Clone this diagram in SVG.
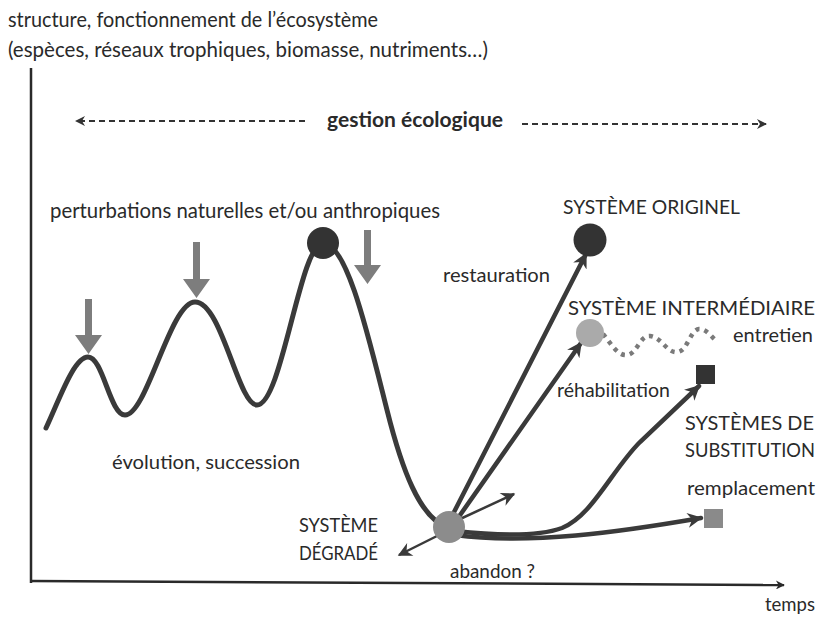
<svg xmlns="http://www.w3.org/2000/svg" width="831" height="623" viewBox="0 0 831 623">
<style>
text{font-family:Lato,"Open Sans","Liberation Sans",sans-serif;fill:#2a2a2a}
.t18{font-size:20.2px}
.t16{font-size:20px}
.cap{font-size:19.5px}
.curve{fill:none;stroke:#3a3a3a;stroke-width:5;stroke-linecap:round}
.arr{fill:none;stroke:#3a3a3a;stroke-width:4.5;stroke-linecap:round}
.thin{fill:none;stroke:#3a3a3a;stroke-width:2.5}
.dash{fill:none;stroke:#333;stroke-width:2;stroke-dasharray:6 4}
.pert{fill:#7d7d7d}
</style>
<defs>
<marker id="ah" viewBox="0 0 10 10" refX="9" refY="5" markerWidth="19" markerHeight="15" markerUnits="userSpaceOnUse" orient="auto"><path d="M0,0 L10,5 L0,10 L3,5 Z" fill="#3a3a3a"/></marker>
<marker id="ahs" viewBox="0 0 10 10" refX="9" refY="5" markerWidth="17" markerHeight="14" markerUnits="userSpaceOnUse" orient="auto"><path d="M0,0 L10,5 L0,10 L3,5 Z" fill="#3a3a3a"/></marker>
<marker id="ahd" viewBox="0 0 10 10" refX="9" refY="5" markerWidth="12" markerHeight="10" markerUnits="userSpaceOnUse" orient="auto"><path d="M0,0 L10,5 L0,10 L3,5 Z" fill="#333"/></marker>
<marker id="aha" viewBox="0 0 10 10" refX="9" refY="5" markerWidth="14" markerHeight="9" markerUnits="userSpaceOnUse" orient="auto"><path d="M0,0 L10,5 L0,10 L3,5 Z" fill="#2a2a2a"/></marker>
</defs>
<rect width="831" height="623" fill="#ffffff"/>

<g id="axes">
<line x1="31" y1="68" x2="31" y2="583" stroke="#2a2a2a" stroke-width="2.5"/>
<line x1="30" y1="581" x2="784" y2="585" stroke="#2a2a2a" stroke-width="2.5" marker-end="url(#aha)"/>
<text class="t18" x="8" y="27" textLength="370" lengthAdjust="spacingAndGlyphs">structure, fonctionnement de l’écosystème</text>
<text class="t18" x="8" y="57" textLength="480" lengthAdjust="spacingAndGlyphs">(espèces, réseaux trophiques, biomasse, nutriments…)</text>
<text class="t16" x="765" y="611" textLength="50" lengthAdjust="spacingAndGlyphs">temps</text>
</g>

<g id="gestion">
<line class="dash" x1="305" y1="121" x2="76" y2="121" marker-end="url(#ahd)"/>
<line class="dash" x1="522" y1="124" x2="766" y2="124" marker-end="url(#ahd)"/>
<text x="327" y="127" style="font-size:20px;font-weight:bold" textLength="176" lengthAdjust="spacingAndGlyphs">gestion écologique</text>
</g>

<g id="perturbations">
<text class="t18" x="50" y="218" textLength="390" lengthAdjust="spacingAndGlyphs">perturbations naturelles et/ou anthropiques</text>
<path class="pert" d="M85,299 h7 v36 h10 l-13.5,19 l-13.5,-19 h10 z"/>
<path class="pert" d="M193,242 h7 v37 h10 l-13.5,19 l-13.5,-19 h10 z"/>
<path class="pert" d="M364,230 h7 v35 h10 l-13.5,19 l-13.5,-19 h10 z"/>
</g>

<g id="evolution">
<path class="curve" d="M46,428 C60,398 74,357 88,357 C103,357 110,415 125,415 C147,415 170,302 195,302 C222,302 238,405 257,405 C282,405 300,243 323,243 C347,243 368,335 387,410 C402,470 420,518 447,527"/>
<text class="t16" x="112" y="469" textLength="188" lengthAdjust="spacingAndGlyphs">évolution, succession</text>
</g>

<g id="connectors">
<line class="arr" x1="452" y1="516" x2="586" y2="254" marker-end="url(#ah)"/>
<line class="arr" x1="458" y1="518" x2="581" y2="343" marker-end="url(#ah)"/>
<line class="thin" x1="458" y1="520" x2="514" y2="494" marker-end="url(#ahs)"/>
<line class="thin" x1="443" y1="533" x2="399" y2="555" marker-end="url(#ahs)"/>
<path class="arr" d="M455,531 C500,536 540,536 562,528 C592,516 612,470 640,442 L699,386" marker-end="url(#ah)"/>
<path class="arr" d="M455,535 C530,545 620,532 701,518" marker-end="url(#ah)"/>
<path d="M603,334 C612,345 618,356 627,355 C637,354 640,335 650,336 C662,337 667,354 678,352 C688,350 690,330 699,329 C707,329 712,338 718,342" fill="none" stroke="#7a7a7a" stroke-width="4.5" stroke-dasharray="4 5"/>
</g>

<g id="peak-node"><circle cx="323" cy="243" r="16" fill="#333"/></g>

<g id="degrade">
<circle cx="449" cy="527" r="16" fill="#8c8c8c"/>
<text class="cap" x="378" y="532" text-anchor="end" textLength="79" lengthAdjust="spacingAndGlyphs">SYSTÈME</text>
<text class="cap" x="378" y="560" text-anchor="end" textLength="79" lengthAdjust="spacingAndGlyphs">DÉGRADÉ</text>
<text class="t16" x="450" y="578" textLength="85" lengthAdjust="spacingAndGlyphs">abandon ?</text>
</g>

<g id="originel">
<circle cx="590" cy="240" r="16.5" fill="#333"/>
<text class="cap" x="563" y="214" textLength="177" lengthAdjust="spacingAndGlyphs">SYSTÈME ORIGINEL</text>
<text class="t16" x="443" y="282" textLength="107" lengthAdjust="spacingAndGlyphs">restauration</text>
</g>

<g id="intermediaire">
<circle cx="590" cy="333" r="14" fill="#aaaaaa"/>
<text class="cap" x="568" y="315" textLength="247" lengthAdjust="spacingAndGlyphs">SYSTÈME INTERMÉDIAIRE</text>
<text class="t16" x="733" y="342" textLength="80" lengthAdjust="spacingAndGlyphs">entretien</text>
<text class="t16" x="557" y="397" textLength="113" lengthAdjust="spacingAndGlyphs">réhabilitation</text>
</g>

<g id="substitution">
<rect x="696" y="365" width="19" height="19" fill="#333"/>
<text class="cap" x="685" y="430" textLength="129" lengthAdjust="spacingAndGlyphs">SYSTÈMES DE</text>
<text class="cap" x="685" y="457" textLength="130" lengthAdjust="spacingAndGlyphs">SUBSTITUTION</text>
</g>

<g id="remplacement">
<rect x="704" y="509" width="19" height="19" fill="#8a8a8a"/>
<text class="t16" x="687" y="495" textLength="128" lengthAdjust="spacingAndGlyphs">remplacement</text>
</g>
</svg>
